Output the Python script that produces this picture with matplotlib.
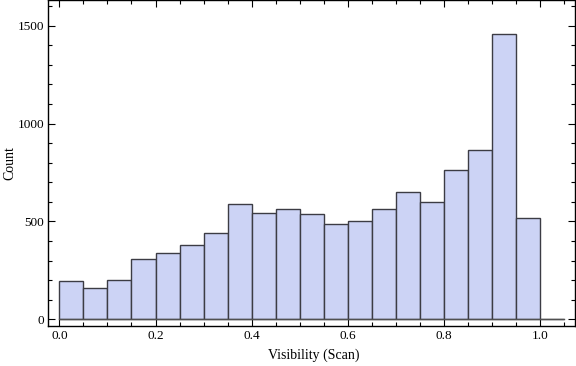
import numpy as np
import matplotlib
matplotlib.use("Agg")
import matplotlib.pyplot as plt
from matplotlib.ticker import MultipleLocator

bin_edges = [round(0.05 * i, 2) for i in range(22)]
counts = [194, 158, 199, 306, 337, 378, 439, 587, 541, 566, 536,
          485, 500, 561, 648, 597, 765, 867, 1459, 515, 0]
x_label = "Visibility (Scan)"
y_label = "Count"

plt.rcParams['font.family'] = ['Liberation Serif', 'DejaVu Serif']

fig = plt.figure(figsize=(5.76, 3.66), dpi=100)
ax = fig.add_axes([0.0839, 0.110, 0.998 - 0.0839, 0.999 - 0.110])

lefts = bin_edges[:-1]
ax.bar(lefts, counts, width=0.05, align='edge', color='#CCD3F5',
       edgecolor='#3c3c44', linewidth=1.0, zorder=2)
ax.plot([bin_edges[0], bin_edges[-1]], [0, 0], color='#505050', lw=1.0, zorder=3)

ax.set_xlim(-0.0229, 1.072)
ax.set_ylim(-32.7, 1629)

ax.xaxis.set_major_locator(MultipleLocator(0.2))
ax.xaxis.set_minor_locator(MultipleLocator(0.05))
ax.yaxis.set_major_locator(MultipleLocator(500))
ax.yaxis.set_minor_locator(MultipleLocator(100))
ax.xaxis.set_major_formatter(matplotlib.ticker.FormatStrFormatter('%.1f'))

ax.tick_params(which='both', direction='in', top=True, right=True,
               labelsize=9.5, colors='black', pad=3)
ax.tick_params(which='major', length=5, width=0.8)
ax.tick_params(which='minor', length=3, width=0.8)

for s in ax.spines.values():
    s.set_linewidth(1.0)
    s.set_color('black')

ax.set_xlabel(x_label, fontsize=10)
ax.set_ylabel(y_label, fontsize=10)
ax.xaxis.set_label_coords((314 - 48.3) / 526.7, -(355 - 325.7) / 325.3, transform=ax.transAxes)
ax.yaxis.set_label_coords(-(48.3 - 10) / 526.7, (325.7 - 163) / 325.3, transform=ax.transAxes)
ax.xaxis.label.set_va('center')
ax.yaxis.label.set_va('center')

fig.savefig("out.png", dpi=100)
